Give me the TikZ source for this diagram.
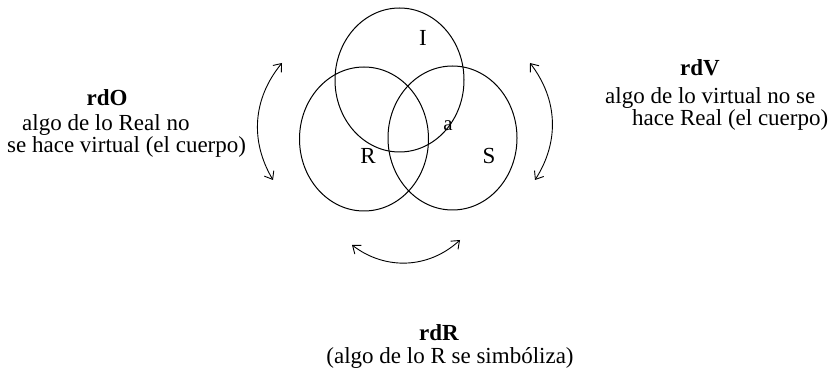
\documentclass[tikz,border=0pt]{standalone}
\usepackage{fontspec}
\setmainfont{Liberation Serif}
\usepackage{tikz}
\usetikzlibrary{shapes.geometric,arrows.meta}

\begin{document}
\begin{tikzpicture}[
  x=1pt, y=-1pt,
  font=\fontsize{23}{22.5}\selectfont,
  ring/.style={draw, ellipse, line width=1pt, minimum width=129pt, minimum height=144pt, inner sep=0pt},
  lbl/.style={font=\fontsize{23}{24}\selectfont, inner sep=0pt},
  title/.style={font=\fontsize{23}{24}\selectfont\bfseries, inner sep=0pt, anchor=base},
  desc/.style={align=left, inner sep=0pt, anchor=base west},
  arr/.style={{Straight Barb[length=7pt,width=11pt]}-{Straight Barb[length=7pt,width=11pt]}, line width=0.9pt},
]
\useasboundingbox (0,0) rectangle (838,374);

% the three rings
\node[ring] (I) at (399.5,80) {};
\node[ring] (R) at (364,139) {};
\node[ring] (S) at (452.5,138) {};

\node[lbl] (lI) at (423,38) {I};
\node[lbl] (lR) at (368,156) {R};
\node[lbl] (lS) at (489,156) {S};
\node[lbl, font=\fontsize{21}{22}\selectfont] (la) at (448,126) {a};

% texts (base of the last line)
\node[title] (rdO) at (107,106) {rdO};
\node[desc] (tO) at (7,153) {\hspace*{15pt}algo de lo Real no\\se hace virtual (el cuerpo)};
\node[title] (rdV) at (700,76) {rdV};
\node[desc] (tV) at (605,126) {algo de lo virtual no se\\\hspace*{27pt}hace Real (el cuerpo)};
\node[title] (rdR) at (439,340) {rdR};
\node[inner sep=0pt, anchor=base] (tR) at (450,363) {(algo de lo R se simbóliza)};

% arrows
\coordinate (o1) at (282,63);
\coordinate (o2) at (273,180);
\coordinate (v1) at (530,63);
\coordinate (v2) at (535,180);
\coordinate (r1) at (352,245);
\coordinate (r2) at (460,240);

\draw[arr] (o1) to[bend right=35] (o2);
\draw[arr] (v1) to[bend left=35] (v2);
\draw[arr] (r1) to[bend right=40] (r2);
\end{tikzpicture}
\end{document}
